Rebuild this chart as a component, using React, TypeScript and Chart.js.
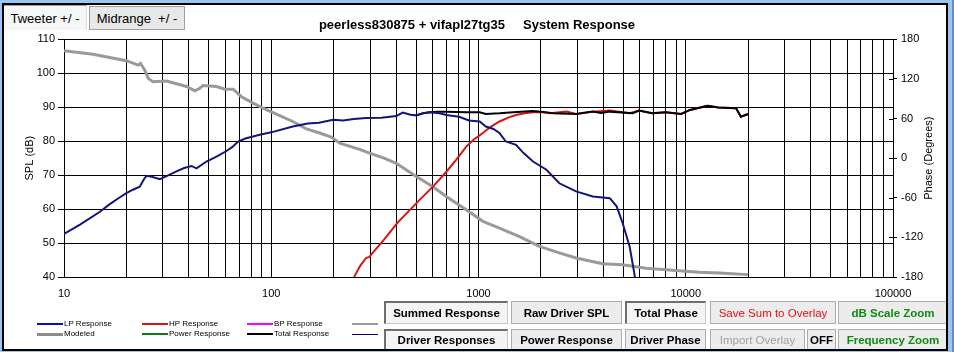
import React, { useEffect, useRef } from "react";
import { Chart, registerables } from "chart.js";

Chart.register(...registerables);

const FONT = '"Liberation Sans", Arial, sans-serif';

// ---- text ----
const TITLE = "peerless830875 + vifapl27tg35     System Response";
const SPL_TITLE = "SPL (dB)";
const PHASE_TITLE = "Phase (Degrees)";

// ---- axis ticks ----
const freqDecades = [10, 100, 1000, 10000, 100000];
const freqMultipliers = [1, 2, 3, 4, 5, 6, 7, 8, 9];
const splTicks = [40, 50, 60, 70, 80, 90, 100, 110];
const phaseTicks = [-180, -120, -60, 0, 60, 120, 180];

// ---- series: LP Response (navy) ----
const lpFreq = [10, 12, 14.9, 16.5, 18.3, 20, 21.5, 23.2, 24.3, 25, 26.5, 29, 32, 34.9, 38, 41.2, 43.6, 48.7, 55, 60.8, 65, 69.2, 75, 88, 100, 127, 150, 170, 199, 222, 250, 287, 340, 401, 431, 470, 501, 540, 582, 649, 699, 805, 900, 1013, 1085, 1180, 1262, 1356, 1517, 1650, 1832, 2127, 2456, 2956, 3564, 4300, 4640, 4959, 5360, 5680, 6000];
const lpSpl = [52.7, 55.5, 59.2, 61.3, 63.2, 64.7, 65.7, 66.6, 68.8, 69.8, 69.5, 68.8, 70.0, 71.1, 72.1, 72.7, 72.0, 74.0, 75.6, 77.1, 78.3, 79.9, 80.8, 81.9, 82.6, 84.3, 85.2, 85.4, 86.3, 86.1, 86.5, 86.8, 86.9, 87.4, 88.4, 87.8, 87.6, 88.2, 88.5, 88.2, 87.7, 87.2, 86.1, 85.8, 84.3, 83.6, 82.4, 79.9, 78.9, 76.5, 74.0, 71.6, 67.6, 65.2, 63.7, 63.2, 60.8, 55.9, 49.0, 40.2, 32];

// ---- series: HP Response (red) ----
const hpFreq = [240, 252, 270, 287, 297, 350, 407, 520, 603, 700, 780, 873, 950, 1050, 1150, 1262, 1400, 1517, 1700, 1832, 2000, 2213, 2660, 2956, 3564, 4300, 5360, 5950, 6880, 8017, 9500, 10480, 12740, 14350, 17500, 18450, 20000];
const hpSpl = [37, 40.2, 43.5, 45.6, 45.9, 51.0, 56.0, 62.7, 66.6, 71.0, 74.5, 78.4, 80.5, 82.4, 84.3, 85.8, 87.0, 87.7, 88.3, 88.5, 88.6, 88.2, 88.7, 88.0, 88.7, 89.0, 88.2, 89.0, 88.2, 88.5, 88.0, 89.2, 90.4, 89.9, 89.7, 87.2, 88.0];

// ---- series: Total Response (black) ----
const totFreq = [501, 540, 582, 627, 699, 873, 1013, 1085, 1262, 1470, 1832, 2000, 2296, 2956, 3564, 3900, 4300, 5546, 5950, 6880, 8017, 9500, 10480, 12740, 14350, 17500, 18450, 20000];
const totSpl = [87.6, 88.2, 88.5, 88.7, 88.7, 88.5, 88.5, 88.0, 88.2, 88.5, 88.9, 88.7, 88.2, 88.0, 88.7, 88.3, 88.7, 88.2, 89.0, 88.2, 88.5, 88.0, 89.2, 90.4, 89.9, 89.7, 87.2, 88.0];

// ---- series: Modeled (gray) ----
const modFreq = [10, 13.8, 20, 22.8, 23.4, 24.5, 25.5, 26.9, 31.2, 39, 42.8, 45.2, 46.9, 54.4, 59.7, 65.5, 71.8, 81.7, 91.3, 102, 127, 148, 171, 195, 214, 267, 298, 350, 401, 501, 603, 699, 873, 1050, 1262, 1577, 1968, 2456, 2956, 3971, 4959, 6424, 8017, 11600, 14490, 20000];
const modSpl = [106.6, 105.6, 103.7, 102.4, 102.9, 101.0, 98.5, 97.5, 97.7, 96.1, 94.8, 95.6, 96.4, 96.1, 95.3, 95.3, 93.1, 91.2, 89.7, 88.4, 85.8, 83.6, 82.4, 81.2, 79.4, 77.6, 76.5, 75.0, 73.5, 69.6, 66.6, 63.7, 59.8, 56.4, 54.4, 51.9, 49.0, 47.1, 45.6, 43.9, 43.6, 42.6, 42.1, 41.4, 41.2, 40.7];

// ---- legend ----
const legendRow1 = ["LP Response", "HP Response", "BP Response", ""];
const legendRow1Colors = ["#0b0bc4", "#d81414", "#ff00ff", "#9a9a9a"];
const legendRow2 = ["Modeled", "Power Response", "Total Response", ""];
const legendRow2Colors = ["#8c8c8c", "#107c10", "#000000", "#000080"];

// ---- buttons ----
const buttonsRow1 = ["Summed Response", "Raw Driver SPL", "Total Phase", "Save Sum to Overlay", "dB Scale Zoom"];
const buttonsRow2 = ["Driver Responses", "Power Response", "Driver Phase", "Import Overlay", "OFF", "Frequency Zoom"];
const tabs = ["Tweeter +/ -", "Midrange  +/ -"];

const pts = (xs: number[], ys: number[]) => xs.map((x, i) => ({ x, y: ys[i] }));

const gridFreqs: number[] = [];
freqDecades.forEach((d, i) => {
  if (i === freqDecades.length - 1) gridFreqs.push(d);
  else freqMultipliers.forEach((m) => gridFreqs.push(d * m));
});

const extras = {
  id: "extras",
  afterDraw(chart: any) {
    const { ctx, chartArea } = chart;
    const y2 = chart.scales.y2;
    ctx.save();
    ctx.strokeStyle = "#000";
    ctx.lineWidth = 1;
    phaseTicks.forEach((t) => {
      const y = Math.round(y2.getPixelForValue(t)) + 0.5;
      ctx.beginPath();
      ctx.moveTo(chartArea.right - 4, y);
      ctx.lineTo(chartArea.right, y);
      ctx.stroke();
    });
    ctx.translate(chart.width - 25, (chartArea.top + chartArea.bottom) / 2);
    ctx.rotate(-Math.PI / 2);
    ctx.font = `11px ${FONT}`;
    ctx.fillStyle = "#000";
    ctx.textAlign = "center";
    ctx.textBaseline = "middle";
    ctx.fillText(PHASE_TITLE, 0, 0);
    ctx.restore();
  },
};

function Btn(props: { x: number; y: number; w: number; h: number; label: string; color: string; bold: boolean; sunken?: boolean }) {
  const { x, y, w, h, label, color, bold, sunken } = props;
  const border = sunken
    ? { borderTop: "2px solid #6e6e6e", borderLeft: "2px solid #6e6e6e", borderRight: "1px solid #c8c8c8", borderBottom: "1px solid #c8c8c8" }
    : { border: "1px solid #adadad" };
  return (
    <div
      style={{
        position: "absolute",
        left: x,
        top: y,
        width: w,
        height: h,
        boxSizing: "border-box",
        background: sunken ? "#f4f4f4" : "#ececec",
        ...border,
        display: "flex",
        alignItems: "center",
        justifyContent: "center",
        font: `${bold ? "bold " : ""}11.5px ${FONT}`,
        color,
        whiteSpace: "pre",
      }}
    >
      {label}
    </div>
  );
}

export default function App() {
  const ref = useRef<HTMLCanvasElement>(null);

  useEffect(() => {
    Chart.defaults.font.family = FONT;
    Chart.defaults.color = "#000";
    const chart = new Chart(ref.current as HTMLCanvasElement, {
      type: "line",
      data: {
        datasets: [
          { label: "LP Response", data: pts(lpFreq, lpSpl), borderColor: "#14147c", borderWidth: 2, pointRadius: 0, tension: 0, yAxisID: "y" },
          { label: "Total Response", data: pts(totFreq, totSpl), borderColor: "#000000", borderWidth: 2, pointRadius: 0, tension: 0, yAxisID: "y" },
          { label: "HP Response", data: pts(hpFreq, hpSpl), borderColor: "#d81414", borderWidth: 2, pointRadius: 0, tension: 0, yAxisID: "y" },
          { label: "Modeled", data: pts(modFreq, modSpl), borderColor: "#9a9a9a", borderWidth: 3, pointRadius: 0, tension: 0, yAxisID: "y" },
        ],
      },
      options: {
        responsive: false,
        animation: false,
        events: [],
        layout: { padding: 0 },
        plugins: {
          legend: { display: false },
          tooltip: { enabled: false },
          title: {
            display: true,
            text: TITLE,
            color: "#000",
            font: { size: 13, weight: "bold", family: FONT },
            padding: { top: 17.7, bottom: 6 },
          },
        },
        scales: {
          x: {
            type: "logarithmic",
            min: 10,
            max: 100000,
            afterBuildTicks: (s: any) => {
              s.ticks = gridFreqs.map((v) => ({ value: v }));
            },
            afterFit: (s: any) => {
              s.height = 75;
            },
            ticks: {
              autoSkip: false,
              maxRotation: 0,
              minRotation: 0,
              padding: 10,
              color: "#000",
              font: { size: 11 },
              callback: (v: any) => (freqDecades.includes(Number(v)) ? String(v) : ""),
            },
            grid: { color: "#000", lineWidth: 1, drawTicks: false },
            border: { display: true, color: "#000" },
          },
          y: {
            type: "linear",
            position: "left",
            min: 40,
            max: 110,
            afterBuildTicks: (s: any) => {
              s.ticks = splTicks.map((v) => ({ value: v }));
            },
            afterFit: (s: any) => {
              s.width = 64;
            },
            ticks: { padding: 3, color: "#000", font: { size: 11 } },
            grid: { color: "#000", lineWidth: 1, drawTicks: true, tickLength: 6 },
            border: { display: true, color: "#000" },
            title: { display: true, text: SPL_TITLE, color: "#000", font: { size: 11 }, padding: { top: 23, bottom: 0 } },
          },
          y2: {
            type: "linear",
            position: "right",
            min: -180,
            max: 180,
            afterBuildTicks: (s: any) => {
              s.ticks = phaseTicks.map((v) => ({ value: v }));
            },
            afterFit: (s: any) => {
              s.width = 61;
            },
            ticks: { padding: 4, color: "#000", font: { size: 11 } },
            grid: { drawOnChartArea: false, color: "#000", drawTicks: true, tickLength: 4 },
            border: { display: true, color: "#000" },
          },
        },
      } as any,
      plugins: [extras],
    });
    return () => chart.destroy();
  }, []);

  const legendCols = [37, 142, 247, 352];
  const row1Y = 301;
  const row2Y = 329;
  const colX = [384, 511, 625, 710, 838];
  const colW = [124, 111, 81, 126, 110];

  return (
    <div style={{ position: "fixed", left: 0, top: 0, width: 954, height: 352, background: "#9cc6f0", overflow: "hidden", fontFamily: FONT }}>
      <div style={{ position: "absolute", left: 952, top: 0, width: 2, height: 352, background: "#5b8fd0" }} />
      <div style={{ position: "absolute", left: 2, top: 3, width: 946, height: 348, background: "#fff" }} />
      <canvas ref={ref} width={954} height={352} style={{ position: "absolute", left: 0, top: 0, width: 954, height: 352 }} />

      {/* tabs */}
      <div style={{ position: "absolute", left: 3, top: 5, width: 84, height: 25, boxSizing: "border-box", background: "#f6f6f6", borderTop: "1px solid #9a9a9a", borderLeft: "1px solid #9a9a9a", borderRight: "1px solid #dcdcdc", display: "flex", alignItems: "center", justifyContent: "center", font: `13px ${FONT}`, color: "#000", whiteSpace: "pre" }}>
        {tabs[0]}
      </div>
      <div style={{ position: "absolute", left: 89, top: 6, width: 96, height: 24, boxSizing: "border-box", background: "#e8e8e8", border: "1px solid #a0a0a0", display: "flex", alignItems: "center", justifyContent: "center", font: `13px ${FONT}`, color: "#000", whiteSpace: "pre" }}>
        {tabs[1]}
      </div>

      {/* legend */}
      {[legendRow1, legendRow2].map((row, r) =>
        row.map((label, i) => {
          const colors = r === 0 ? legendRow1Colors : legendRow2Colors;
          const y = r === 0 ? 324 : 334;
          const thick = r === 1 && i === 0 ? 3 : r === 1 && i === 3 ? 1 : 2;
          return (
            <React.Fragment key={`${r}-${i}`}>
              <div style={{ position: "absolute", left: legendCols[i], top: y - thick / 2, width: 26, height: thick, background: colors[i] }} />
              {label && (
                <div style={{ position: "absolute", left: legendCols[i] + 27, top: y - 5, height: 10, lineHeight: "10px", font: `8px ${FONT}`, color: "#000", whiteSpace: "pre" }}>
                  {label}
                </div>
              )}
            </React.Fragment>
          );
        })
      )}

      {/* buttons */}
      <Btn x={colX[0]} y={row1Y} w={colW[0]} h={23} label={buttonsRow1[0]} color="#000" bold sunken />
      <Btn x={colX[1]} y={row1Y} w={colW[1]} h={23} label={buttonsRow1[1]} color="#000" bold />
      <Btn x={colX[2]} y={row1Y} w={colW[2]} h={23} label={buttonsRow1[2]} color="#000" bold sunken />
      <Btn x={colX[3]} y={row1Y} w={colW[3]} h={23} label={buttonsRow1[3]} color="#e01010" bold={false} />
      <Btn x={colX[4]} y={row1Y} w={colW[4]} h={23} label={buttonsRow1[4]} color="#108a10" bold />

      <Btn x={colX[0]} y={row2Y} w={colW[0]} h={21} label={buttonsRow2[0]} color="#000" bold sunken />
      <Btn x={colX[1]} y={row2Y} w={colW[1]} h={21} label={buttonsRow2[1]} color="#000" bold />
      <Btn x={colX[2]} y={row2Y} w={colW[2]} h={21} label={buttonsRow2[2]} color="#000" bold />
      <Btn x={colX[3]} y={row2Y} w={95} h={21} label={buttonsRow2[3]} color="#a0a0a0" bold={false} />
      <Btn x={807} y={row2Y} w={29} h={21} label={buttonsRow2[4]} color="#000" bold />
      <Btn x={colX[4]} y={row2Y} w={colW[4]} h={21} label={buttonsRow2[5]} color="#108a10" bold />

      {/* frame border on top */}
      <div style={{ position: "absolute", left: 2, top: 3, width: 946, height: 348, boxSizing: "border-box", border: "2px solid #000", pointerEvents: "none" }} />
    </div>
  );
}
